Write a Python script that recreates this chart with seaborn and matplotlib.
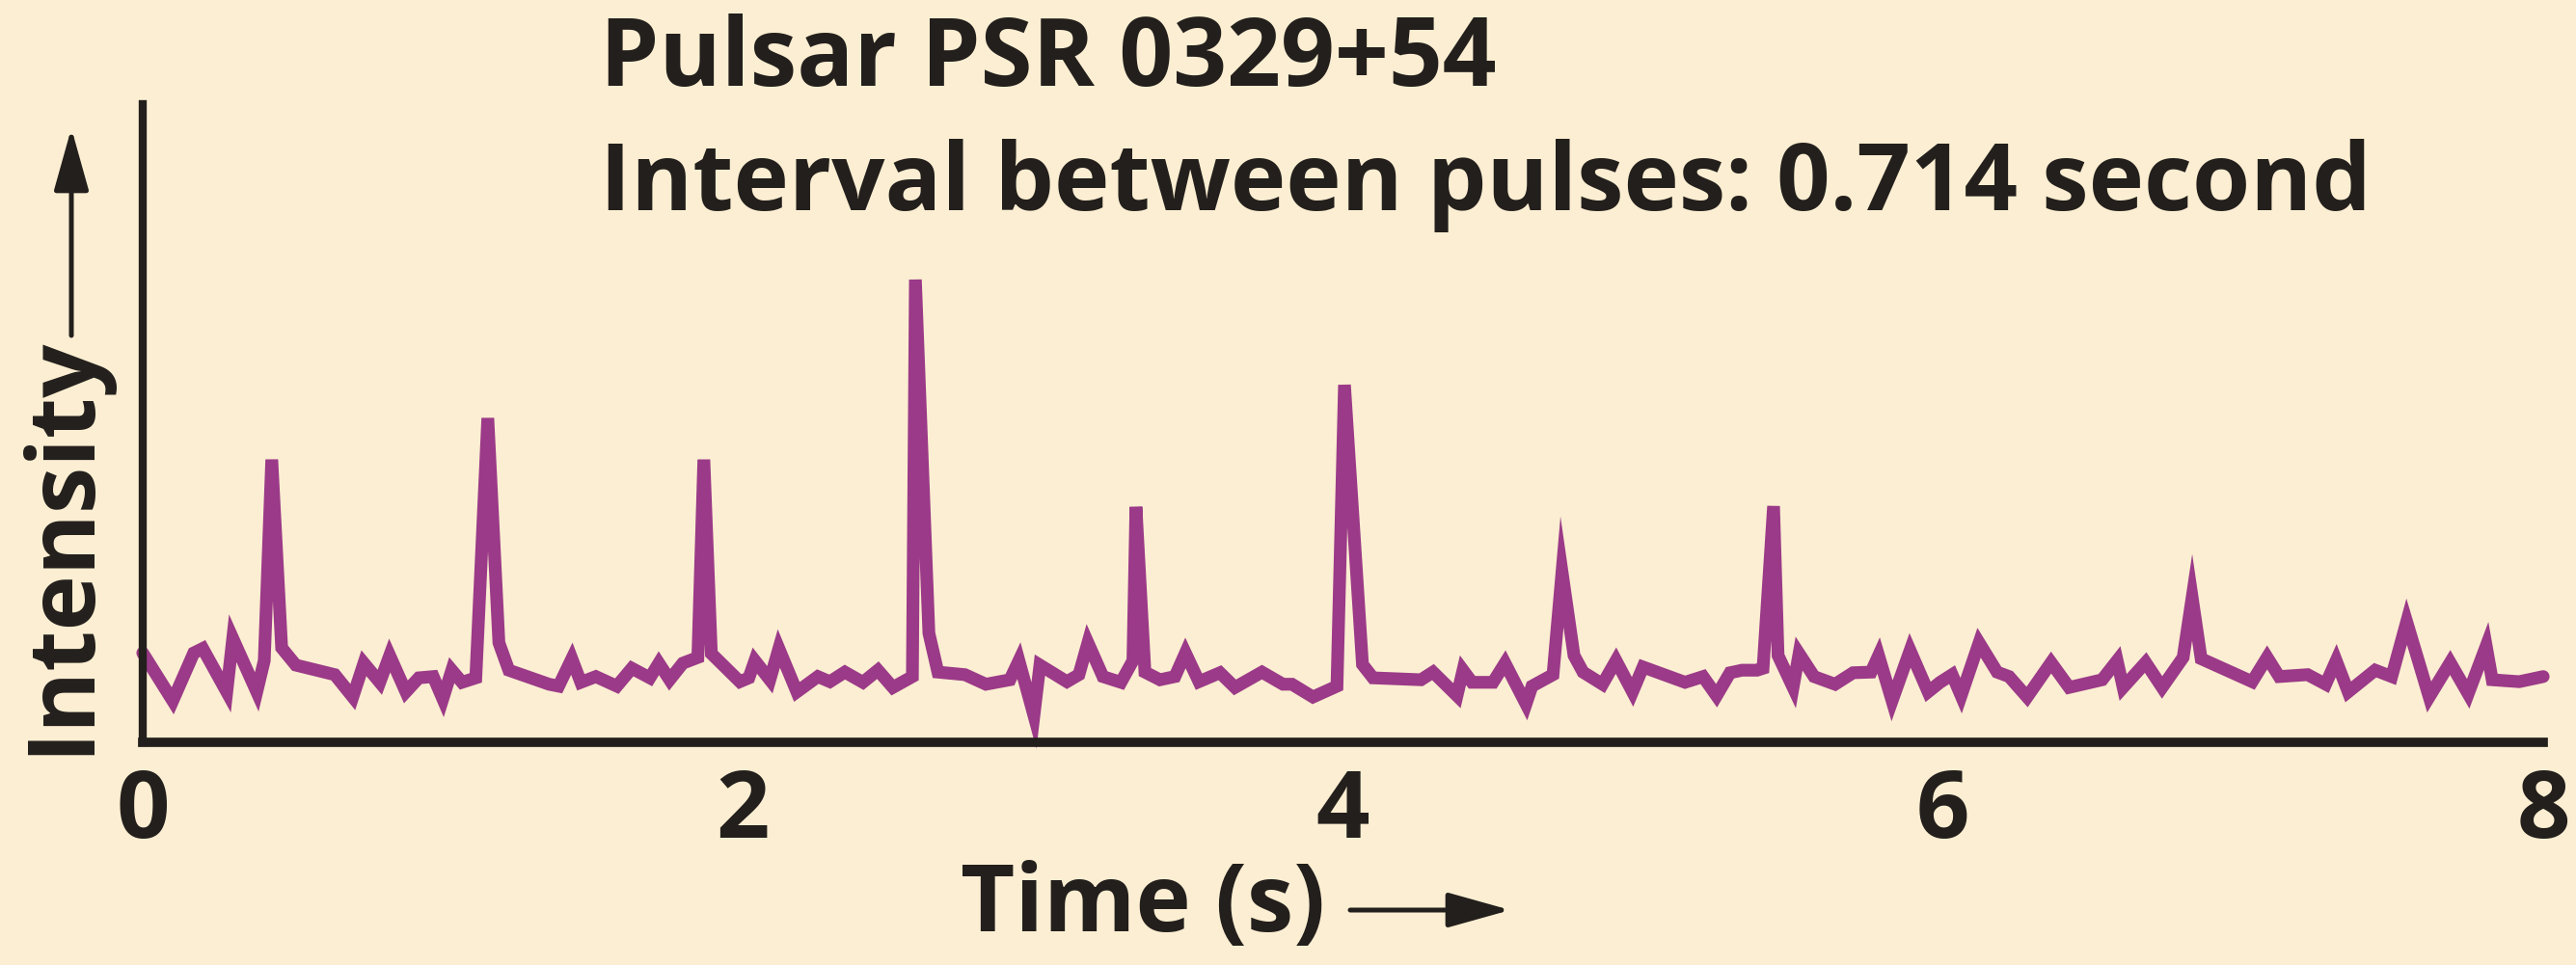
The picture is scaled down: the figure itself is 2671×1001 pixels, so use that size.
import matplotlib
matplotlib.use("Agg")
import matplotlib.pyplot as plt
import seaborn as sns
import pandas as pd
from matplotlib.ticker import MultipleLocator

# ---- data ----
time_s = [0.00, 0.10, 0.17, 0.20, 0.28, 0.30, 0.38, 0.405, 0.43, 0.463,
          0.51, 0.64, 0.70, 0.737, 0.79, 0.823, 0.877, 0.92, 0.968, 1.00,
          1.03, 1.064, 1.11, 1.15, 1.187, 1.22, 1.354, 1.386, 1.43, 1.46,
          1.51, 1.58, 1.63, 1.69, 1.72, 1.756, 1.80, 1.85, 1.87, 1.895,
          1.99, 2.02, 2.04, 2.09, 2.12, 2.18, 2.25, 2.29, 2.34, 2.40,
          2.45, 2.50, 2.565, 2.575, 2.62, 2.65, 2.74, 2.81, 2.89, 2.92,
          2.97, 2.99, 3.08, 3.12, 3.15, 3.20, 3.26, 3.30, 3.31, 3.34,
          3.39, 3.44, 3.475, 3.52, 3.59, 3.64, 3.73, 3.80, 3.83, 3.90,
          3.98, 4.005, 4.065, 4.10, 4.26, 4.30, 4.38, 4.40, 4.43, 4.50,
          4.54, 4.61, 4.63, 4.70, 4.73, 4.77, 4.80, 4.865, 4.91, 4.965,
          5.00, 5.14, 5.20, 5.245, 5.29, 5.33, 5.38, 5.40, 5.435, 5.45,
          5.50, 5.52, 5.57, 5.64, 5.70, 5.76, 5.785, 5.83, 5.89, 5.95,
          5.99, 6.03, 6.06, 6.12, 6.18, 6.22, 6.28, 6.36, 6.42, 6.53,
          6.58, 6.60, 6.675, 6.73, 6.80, 6.83, 6.86, 7.03, 7.08, 7.12,
          7.215, 7.275, 7.31, 7.35, 7.44, 7.495, 7.545, 7.62, 7.69, 7.75,
          7.81, 7.83, 7.92, 8.00]
intensity = [14.0, 6.5, 14.0, 14.7, 7.9, 16.3, 7.9, 12.8, 44.3, 14.8,
             12.1, 10.6, 7.1, 12.4, 9.4, 13.6, 7.9, 10.1, 10.3, 6.8,
             11.3, 9.4, 10.1, 50.8, 15.6, 11.3, 9.1, 8.8, 13.1, 9.4,
             10.3, 8.8, 11.6, 10.1, 12.4, 9.8, 12.4, 13.3, 44.3, 13.9,
             9.5, 10.1, 12.8, 9.8, 14.7, 7.9, 10.3, 9.5, 11.0, 9.4,
             11.3, 8.6, 10.3, 72.5, 17.1, 11.0, 10.6, 9.1, 9.8, 12.8,
             4.2, 12.1, 9.5, 10.6, 15.6, 10.3, 9.4, 12.8, 36.9, 11.0,
             9.8, 10.3, 14.0, 9.5, 10.9, 8.6, 11.0, 9.1, 9.1, 7.1,
             8.8, 56.0, 12.2, 10.1, 9.8, 11.0, 7.3, 11.3, 9.4, 9.4,
             12.4, 6.0, 8.8, 10.6, 26.7, 13.6, 11.0, 9.1, 12.8, 7.9,
             11.8, 9.4, 10.3, 7.3, 10.9, 11.3, 11.3, 11.6, 37.0, 13.6,
             8.6, 13.9, 10.3, 9.1, 10.9, 11.0, 13.6, 6.5, 14.4, 7.9,
             9.4, 10.6, 7.3, 15.6, 11.0, 10.3, 7.1, 12.5, 8.6, 9.8,
             12.8, 8.6, 12.5, 8.6, 13.3, 22.7, 13.1, 9.5, 13.3, 10.3,
             10.6, 9.1, 12.8, 7.9, 11.3, 10.3, 18.9, 7.1, 12.5, 7.6,
             15.1, 9.8, 9.5, 10.3]
major_ticks = [0, 2, 4, 6, 8]
tick_labels = ["0", "2", "4", "6", "8"]
title_line1 = "Pulsar PSR 0329+54"
title_line2 = "Interval between pulses: 0.714 second"
x_label = "Time (s)"
y_label = "Intensity"

# ---- style ----
BG = "#FBEED2"
LINE = "#9B3A88"
INK = "#231F1C"
FAM = ["Open Sans", "DejaVu Sans"]
W, H = 2671, 1001

sns.set_theme(style="white")
plt.rcParams["font.family"] = FAM
plt.rcParams["font.weight"] = "bold"

df = pd.DataFrame({"time": time_s, "intensity": intensity})

fig = plt.figure(figsize=(W / 100, H / 100), dpi=100, facecolor=BG)
ax = fig.add_axes([148 / W, 1 - 770 / H, (2637 - 148) / W, (770 - 108) / H])
ax.set_facecolor(BG)

sns.lineplot(data=df, x="time", y="intensity", ax=ax, color=LINE,
             linewidth=9.5)
for ln in ax.get_lines():
    ln.set_linewidth(9.5)
    ln.set_solid_joinstyle("miter")
    ln.set_clip_on(False)

ax.set_xlim(0, 8)
ax.set_ylim(0, 100)

for side in ["top", "right"]:
    ax.spines[side].set_visible(False)
ax.spines["bottom"].set_linewidth(7.0)
ax.spines["left"].set_linewidth(6.0)
ax.spines["bottom"].set_capstyle("projecting")
for side in ["bottom", "left"]:
    ax.spines[side].set_color(INK)

ax.set_yticks([])
ax.set_xticks(major_ticks)
ax.set_xticklabels(tick_labels)
ax.xaxis.set_minor_locator(MultipleLocator(1))
ax.tick_params(axis="x", which="major", direction="in", length=50, width=4.5,
               color=INK, pad=18, labelsize=70, labelcolor=INK)
ax.tick_params(axis="x", which="minor", direction="in", length=25, width=4.5,
               color=INK)
for lab in ax.get_xticklabels():
    lab.set_fontweight("bold")
    lab.set_family(FAM)

# axis titles
ax.set_xlabel(x_label, fontsize=70, fontweight="bold", color=INK,
              ha="left", va="baseline", family=FAM)
ax.xaxis.set_label_coords((996 - 148) / 2489, -(966 - 770) / 662)

ax.set_ylabel(y_label, fontsize=70, fontweight="bold", color=INK,
              ha="left", va="baseline", rotation=90, rotation_mode="anchor",
              family=FAM)
ax.yaxis.set_label_coords((90 - 148) / 2489, -(783 - 770) / 662)

# arrows next to the axis titles
arrow_kw = dict(arrowstyle="-|>,head_length=1.0,head_width=0.28",
                color=INK, lw=3.6, shrinkA=0, shrinkB=0, mutation_scale=40)
ax.annotate("", xy=(1566, H - 944), xytext=(1400, H - 944),
            xycoords="figure pixels", textcoords="figure pixels",
            arrowprops=arrow_kw, annotation_clip=False)
ax.annotate("", xy=(74, H - 133), xytext=(74, H - 348),
            xycoords="figure pixels", textcoords="figure pixels",
            arrowprops=arrow_kw, annotation_clip=False)

# title lines
fig.text(622 / W, 1 - 89 / H, title_line1, fontsize=70.5, fontweight="bold",
         color=INK, ha="left", va="baseline", family=FAM)
fig.text(622 / W, 1 - 218 / H, title_line2, fontsize=70, fontweight="bold",
         color=INK, ha="left", va="baseline", family=FAM)

fig.savefig("out.png", dpi=100, facecolor=BG)
